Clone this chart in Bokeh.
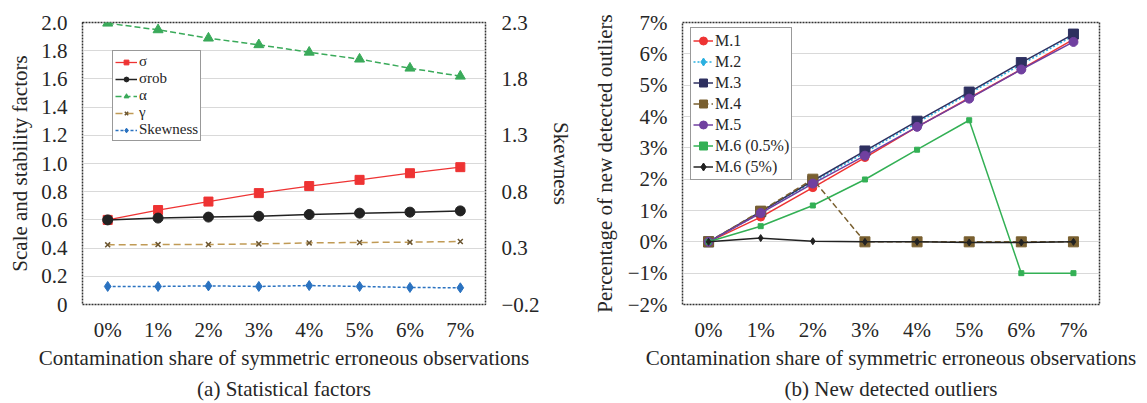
from bokeh.plotting import figure
from bokeh.models import (Range1d, LinearAxis, FixedTicker, Legend, LegendItem, Title)
from bokeh.layouts import row
from bokeh.embed import file_html
from bokeh.resources import INLINE

# ---------------- data ----------------
categories = ["0%", "1%", "2%", "3%", "4%", "5%", "6%", "7%"]

sigma = [0.60, 0.67, 0.73, 0.79, 0.84, 0.884, 0.931, 0.974]
sigma_rob = [0.60, 0.613, 0.62, 0.626, 0.638, 0.648, 0.655, 0.664]
alpha = [1.995, 1.948, 1.889, 1.842, 1.789, 1.74, 1.676, 1.619]
gamma = [0.423, 0.425, 0.426, 0.430, 0.437, 0.440, 0.442, 0.447]
skewness = [-0.040, -0.040, -0.035, -0.040, -0.032, -0.040, -0.049, -0.052]

m1 = [0.0, 0.79, 1.73, 2.69, 3.67, 4.59, 5.51, 6.46]
m2 = [0.0, 0.92, 1.90, 2.85, 3.80, 4.73, 5.66, 6.58]
m3 = [0.0, 0.96, 1.95, 2.90, 3.85, 4.78, 5.72, 6.63]
m4 = [0.0, 0.98, 2.00, 0.0, 0.0, 0.0, 0.0, 0.0]
m5 = [0.0, 0.92, 1.86, 2.75, 3.67, 4.57, 5.50, 6.38]
m6a = [0.0, 0.50, 1.16, 1.99, 2.94, 3.88, -1.0, -1.0]
m6b = [0.0, 0.12, 0.02, 0.0, 0.0, -0.02, -0.02, 0.0]

left_ticks = [0, 0.2, 0.4, 0.6, 0.8, 1.0, 1.2, 1.4, 1.6, 1.8, 2.0]
left_tick_labels = ["0", "0.2", "0.4", "0.6", "0.8", "1.0", "1.2", "1.4", "1.6", "1.8", "2.0"]
skew_ticks = [-0.2, 0.3, 0.8, 1.3, 1.8, 2.3]
skew_tick_labels = ["\u22120.2", "0.3", "0.8", "1.3", "1.8", "2.3"]
pct_ticks = [-2, -1, 0, 1, 2, 3, 4, 5, 6, 7]
pct_tick_labels = ["\u22122%", "\u22121%", "0%", "1%", "2%", "3%", "4%", "5%", "6%", "7%"]

FONT = "Liberation Serif"
TXT = "#262626"
FS = "21px"
XLABEL = "Contamination share of symmetric erroneous observations"


def style(p):
    p.outline_line_color = "#333333"
    p.outline_line_dash = "2 1"
    p.outline_line_width = 1.5
    p.xgrid.grid_line_color = None
    p.ygrid.grid_line_color = "#d9d9d9"
    p.ygrid.grid_line_width = 1.2
    for ax in p.axis:
        ax.axis_line_color = None
        ax.major_tick_line_color = None
        ax.minor_tick_line_color = None
        ax.major_tick_out = 0
        ax.major_tick_in = 0
        ax.minor_tick_out = 0
        ax.minor_tick_in = 0
        ax.major_label_text_font = FONT
        ax.major_label_text_font_size = FS
        ax.major_label_text_color = TXT
        ax.axis_label_text_font = FONT
        ax.axis_label_text_font_size = FS
        ax.axis_label_text_font_style = "normal"
        ax.axis_label_text_color = TXT


# ---------------- left figure ----------------
p1 = figure(width=575, height=403, x_range=categories, y_range=Range1d(0, 2.0),
            output_backend="svg", toolbar_location=None,
            min_border_left=82, min_border_right=76, min_border_top=22, min_border_bottom=99)
p1.extra_y_ranges = {"skew": Range1d(-0.2, 2.3)}
p1.yaxis.ticker = FixedTicker(ticks=left_ticks)
p1.yaxis.major_label_overrides = dict(zip(left_ticks, left_tick_labels))
p1.yaxis.axis_label = "Scale and stability factors"
p1.yaxis.major_label_standoff = 15
p1.yaxis.axis_label_standoff = 6
p1.xaxis.axis_label = XLABEL
p1.xaxis.major_label_standoff = 13
p1.xaxis.axis_label_standoff = 1
ax_r = LinearAxis(y_range_name="skew", ticker=FixedTicker(ticks=skew_ticks),
                  axis_label="Skewness")
ax_r.major_label_overrides = dict(zip(skew_ticks, skew_tick_labels))
ax_r.major_label_standoff = 16
ax_r.axis_label_standoff = 6
p1.add_layout(ax_r, "right")
style(p1)

items1 = []
r = [p1.line(categories, sigma, line_color="#ee3333", line_width=1.3),
     p1.scatter(categories, sigma, marker="square", size=9, color="#ee3333")]
items1.append(LegendItem(label="\u03c3", renderers=r))
r = [p1.line(categories, sigma_rob, line_color="#222222", line_width=1.5),
     p1.scatter(categories, sigma_rob, marker="circle", size=10, color="#222222")]
items1.append(LegendItem(label="\u03c3rob", renderers=r))
r = [p1.line(categories, alpha, line_color="#3aaa5a", line_width=1.5, line_dash="6 3"),
     p1.scatter(categories, alpha, marker="triangle", size=10, color="#3aaa5a")]
items1.append(LegendItem(label="\u03b1", renderers=r))
r = [p1.line(categories, gamma, line_color="#c09a55", line_width=1.5, line_dash="7 4"),
     p1.scatter(categories, gamma, marker="x", size=7, line_color="#6b5530", line_width=1.5)]
items1.append(LegendItem(label="\u03b3", renderers=r))
r = [p1.line(categories, skewness, line_color="#2a72c0", line_width=1.5, line_dash="3 2",
             y_range_name="skew"),
     p1.scatter(categories, skewness, marker="diamond", size=10, color="#2a72c0",
                y_range_name="skew")]
items1.append(LegendItem(label="Skewness", renderers=r))

leg1 = Legend(items=items1, location=(30, 163), label_text_font=FONT,
              label_text_font_size="15px", label_text_color=TXT,
              label_height=12, glyph_height=12, glyph_width=22, spacing=0,
              padding=2, margin=0, label_standoff=2,
              border_line_color="#333333", border_line_width=1.5,
              background_fill_alpha=1)
p1.add_layout(leg1, "center")
p1.add_layout(Title(text="(a) Statistical factors", align="center", text_font=FONT,
                    text_font_size=FS, text_font_style="normal", standoff=5,
                    text_color=TXT), "below")

# ---------------- right figure ----------------
p2 = figure(width=572, height=403, x_range=categories, y_range=Range1d(-2, 7),
            output_backend="svg", toolbar_location=None,
            min_border_left=107, min_border_right=48, min_border_top=22, min_border_bottom=99)
p2.yaxis.ticker = FixedTicker(ticks=pct_ticks)
p2.yaxis.major_label_overrides = dict(zip(pct_ticks, pct_tick_labels))
p2.yaxis.axis_label = "Percentage of new detected outliers"
p2.yaxis.major_label_standoff = 15
p2.yaxis.axis_label_standoff = 8
p2.xaxis.axis_label = XLABEL
p2.xaxis.major_label_standoff = 13
p2.xaxis.axis_label_standoff = 1
style(p2)

series2 = [
    ("M.1", m1, "#ee3333", "solid", "circle", 8),
    ("M.2", m2, "#2ab0e0", "2 2", "diamond", 8),
    ("M.3", m3, "#2e3060", "solid", "square", 10),
    ("M.4", m4, "#7a6030", "6 3", "square", 10),
    ("M.5", m5, "#7040a0", "solid", "circle", 9),
    ("M.6 (0.5%)", m6a, "#33b055", "solid", "dash", 7),
    ("M.6 (5%)", m6b, "#222222", "solid", "diamond", 7),
]
items2 = []
for name, vals, col, dash, mk, sz in series2:
    rl = p2.line(categories, vals, line_color=col, line_width=1.5, line_dash=dash)
    if mk == "dash":
        rs = p2.scatter(categories, vals, marker="square", size=5, color=col)
    else:
        rs = p2.scatter(categories, vals, marker=mk, size=sz, color=col)
    items2.append(LegendItem(label=name, renderers=[rl, rs]))

leg2 = Legend(items=items2, location=(8, 124), label_text_font=FONT,
              label_text_font_size="16px", label_text_color=TXT,
              label_height=21, glyph_height=21, glyph_width=20, spacing=0,
              padding=2, margin=0, label_standoff=2,
              border_line_color="#333333", border_line_width=1.5,
              background_fill_alpha=1)
p2.add_layout(leg2, "center")
p2.add_layout(Title(text="(b) New detected outliers", align="center", text_font=FONT,
                    text_font_size=FS, text_font_style="normal", standoff=5,
                    text_color=TXT), "below")

layout = row(p1, p2)
open("out.html", "w").write(file_html(layout, INLINE))
